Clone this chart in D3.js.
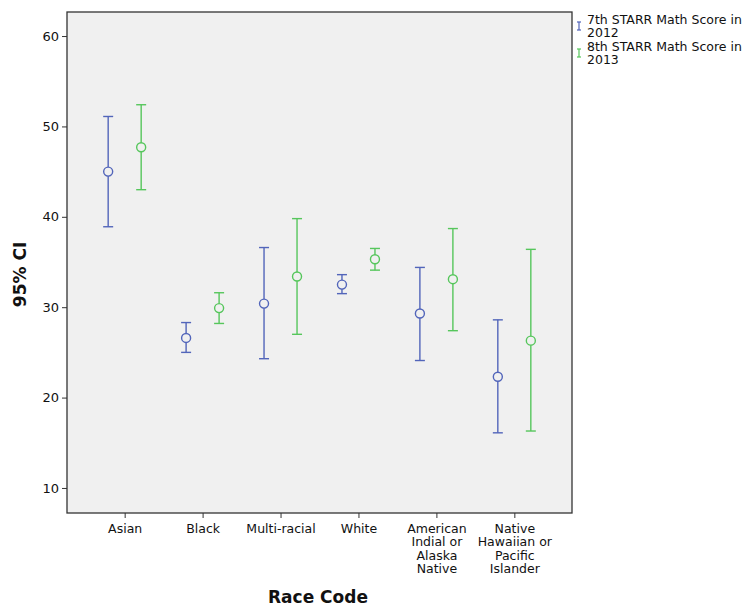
<!DOCTYPE html>
<html>
<head>
<meta charset="utf-8">
<script src="https://cdn.jsdelivr.net/npm/d3@7"></script>
<style>
  body { margin: 0; background: #fff; }
  text { font-family: "DejaVu Sans", sans-serif; fill: #111; }
</style>
</head>
<body>
<div id="chart"></div>
<script>
// categories and the two series (mean, upper and lower 95% CI)
var categories = ["Asian", "Black", "Multi-racial", "White",
  "American Indial or Alaska Native", "Native Hawaiian or Pacific Islander"];
var catLines = [["Asian"], ["Black"], ["Multi-racial"], ["White"],
  ["American", "Indial or", "Alaska", "Native"],
  ["Native", "Hawaiian or", "Pacific", "Islander"]];
var seriesNames = ["7th STARR Math Score in 2012", "8th STARR Math Score in 2013"];
var mean2012 = [45.0, 26.6, 30.4, 32.5, 29.3, 22.3];
var upper2012 = [51.1, 28.3, 36.6, 33.6, 34.4, 28.6];
var lower2012 = [38.9, 25.0, 24.3, 31.5, 24.1, 16.1];
var mean2013 = [47.7, 29.9, 33.4, 35.3, 33.1, 26.3];
var upper2013 = [52.4, 31.6, 39.8, 36.5, 38.7, 36.4];
var lower2013 = [43.0, 28.2, 27.0, 34.1, 27.4, 16.3];
var yTicks = [10, 20, 30, 40, 50, 60];

var colors = ["#5265ba", "#56c65c"];

var width = 747, height = 608;
var pLeft = 67, pTop = 12, pRight = 572, pBottom = 513;

var svg = d3.select('#chart').append('svg')
    .attr('width', width)
    .attr('height', height);

var x = d3.scalePoint().domain(categories).range([pLeft, pRight]).padding(0.74);
var y = d3.scaleLinear().domain([7.23, 62.66]).range([pBottom, pTop]);

// plot area
svg.append('rect')
    .attr('x', pLeft).attr('y', pTop)
    .attr('width', pRight - pLeft).attr('height', pBottom - pTop)
    .style('fill', '#f0f0f0')
    .style('stroke', '#333')
    .style('stroke-width', 1.3);

// axes
var yAxis = svg.append('g')
    .attr('transform', 'translate(' + pLeft + ',0)')
    .call(d3.axisLeft(y).tickValues(yTicks).tickSize(5).tickPadding(3));
yAxis.select('.domain').remove();
yAxis.selectAll('text').style('font-size', '13px').style('fill', '#111');
yAxis.selectAll('line').style('stroke', '#333');

var xAxis = svg.append('g')
    .attr('transform', 'translate(0,' + pBottom + ')')
    .call(d3.axisBottom(x).tickSize(5).tickFormat(''));
xAxis.select('.domain').remove();
xAxis.selectAll('line').style('stroke', '#333');

xAxis.selectAll('.tick').each(function (d, i) {
    var t = d3.select(this).append('text')
        .attr('text-anchor', 'middle')
        .style('font-size', '12.5px')
        .style('fill', '#111');
    catLines[i].forEach(function (line, j) {
        t.append('tspan').attr('x', 0).attr('y', 20 + j * 13.4).text(line);
    });
});

// error bars
var series = [
    { mean: mean2012, upper: upper2012, lower: lower2012, dx: -16.5 },
    { mean: mean2013, upper: upper2013, lower: lower2013, dx: 16.5 }
];

series.forEach(function (s, k) {
    var g = svg.append('g').style('stroke', colors[k]).style('fill', 'none').style('stroke-width', 1.4);
    categories.forEach(function (c, i) {
        var cx = x(c) + s.dx;
        g.append('line')
            .attr('x1', cx).attr('x2', cx)
            .attr('y1', y(s.upper[i])).attr('y2', y(s.lower[i]));
        g.append('line')
            .attr('x1', cx - 5).attr('x2', cx + 5)
            .attr('y1', y(s.upper[i])).attr('y2', y(s.upper[i]));
        g.append('line')
            .attr('x1', cx - 5).attr('x2', cx + 5)
            .attr('y1', y(s.lower[i])).attr('y2', y(s.lower[i]));
        g.append('circle')
            .attr('cx', cx).attr('cy', y(s.mean[i]))
            .attr('r', 4.5)
            .style('fill', '#f0f0f0');
    });
});

// axis titles
svg.append('text')
    .attr('transform', 'translate(26,' + ((pTop + pBottom) / 2 + 12) + ') rotate(-90)')
    .attr('text-anchor', 'middle')
    .style('font-size', '17px')
    .style('font-weight', 'bold')
    .text('95% CI');

svg.append('text')
    .attr('x', 318).attr('y', 603)
    .attr('text-anchor', 'middle')
    .style('font-size', '17px')
    .style('font-weight', 'bold')
    .text('Race Code');

// legend
var legend = svg.append('g').attr('transform', 'translate(577,0)');
seriesNames.forEach(function (name, k) {
    var ly = 26 + k * 27;
    var lg = legend.append('g').style('stroke', colors[k]).style('stroke-width', 1.2);
    lg.append('line').attr('x1', 2).attr('x2', 2).attr('y1', ly - 4).attr('y2', ly + 4);
    lg.append('line').attr('x1', 0).attr('x2', 4).attr('y1', ly - 4).attr('y2', ly - 4);
    lg.append('line').attr('x1', 0).attr('x2', 4).attr('y1', ly + 4).attr('y2', ly + 4);
    var words = name.split(' ');
    var t = legend.append('text').style('font-size', '12.5px');
    t.append('tspan').attr('x', 10).attr('y', ly - 2).text(words.slice(0, -1).join(' '));
    t.append('tspan').attr('x', 10).attr('y', ly + 11).text(words[words.length - 1]);
});
</script>
</body>
</html>
